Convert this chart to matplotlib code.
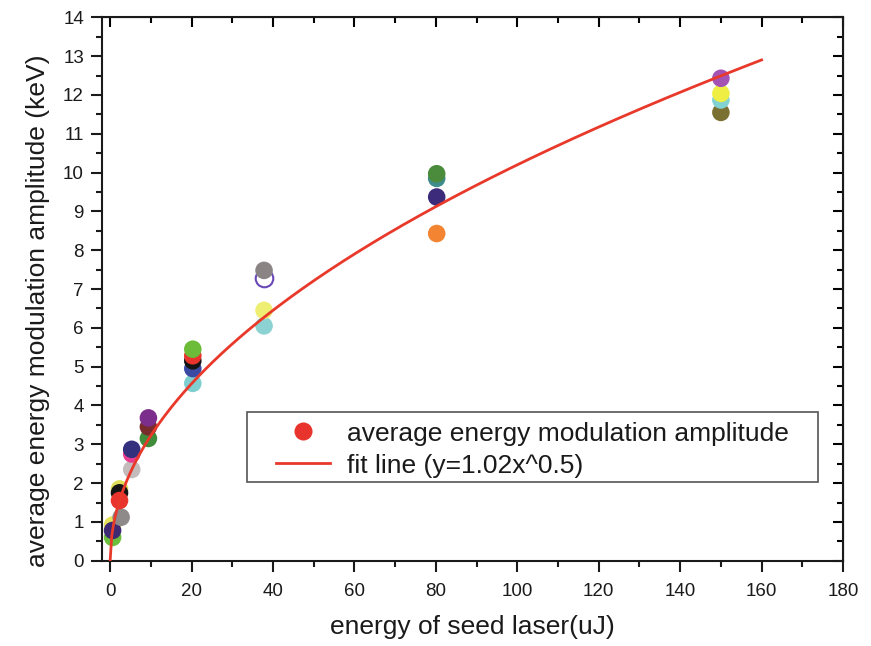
import numpy as np
import matplotlib
matplotlib.use("Agg")
import matplotlib.pyplot as plt
from matplotlib.lines import Line2D
from matplotlib.patches import Rectangle
from matplotlib.ticker import MultipleLocator

plt.rcParams['font.family'] = ['Liberation Sans', 'DejaVu Sans']

# Seed laser energy (uJ) for each measured shot group
energy_0 = [0.6, 0.6, 0.6]
energy_1 = [2.7, 2.3, 2.3, 2.3]
energy_2 = [5.3, 5.3, 5.3]
energy_3 = [9.4, 9.4, 9.4]
energy_4 = [20.3, 20.3, 20.3, 20.3, 20.3]
energy_5 = [37.8, 37.8, 37.8, 37.8]
energy_6 = [80.2, 80.2, 80.2, 80.2]
energy_7 = [150.0, 150.0, 150.0, 150.0]

# Average energy modulation amplitude (keV)
amp_0 = [0.60, 0.92, 0.78]
amp_1 = [1.12, 1.85, 1.75, 1.55]
amp_2 = [2.35, 2.75, 2.87]
amp_3 = [3.15, 3.45, 3.68]
amp_4 = [4.57, 4.95, 5.15, 5.28, 5.45]
amp_5 = [6.05, 6.45, 7.28, 7.48]
amp_6 = [8.43, 9.37, 9.85, 9.97]
amp_7 = [11.55, 11.87, 12.04, 12.43]

# Marker colours per shot
col_0 = ['#6cbf3c', '#e4e25a', '#3e2a72']
col_1 = ['#8e8a8a', '#dede58', '#141414', '#e8342c']
col_2 = ['#c4bcbc', '#ea3c8e', '#33307e']
col_3 = ['#3f8c3a', '#7a2c2c', '#7c2e8c']
col_4 = ['#7fcfd0', '#3a4aa2', '#141414', '#e8342c', '#6cbc3a']
col_5 = ['#8cd2d2', '#eeee72', '#ffffff', '#8a8484']
col_6 = ['#f28432', '#3b2b7a', '#3f8c8c', '#4a8c3c']
col_7 = ['#7a7032', '#82d2d2', '#eeee44', '#a452b4']
edge_5 = ['none', 'none', '#6a48b8', 'none']

# Power-law fit coefficients: y = a * x^b
fit_a = 1.02
fit_b = 0.5
fit_xmax = 160

fig = plt.figure(figsize=(8.71, 6.46), dpi=100)
ax = fig.add_axes([0.1171, 0.132, 0.8508, 0.8412])

groups = [
    (energy_0, amp_0, col_0, None),
    (energy_1, amp_1, col_1, None),
    (energy_2, amp_2, col_2, None),
    (energy_3, amp_3, col_3, None),
    (energy_4, amp_4, col_4, None),
    (energy_5, amp_5, col_5, edge_5),
    (energy_6, amp_6, col_6, None),
    (energy_7, amp_7, col_7, None),
]
for ex, ay, cs, es in groups:
    for i in range(len(ex)):
        ec = 'none' if es is None else es[i]
        ax.scatter([ex[i]], [ay[i]], s=160, c=cs[i], edgecolors=ec,
                   linewidths=1.5, zorder=2)

xf = np.linspace(0, fit_xmax, 400)
ax.plot(xf, fit_a * xf ** fit_b, color='#e8392b', lw=2.0, zorder=3)

ax.set_xlim(-2, 180)
ax.set_ylim(0, 14)
ax.xaxis.set_major_locator(MultipleLocator(20))
ax.xaxis.set_minor_locator(MultipleLocator(10))
ax.yaxis.set_major_locator(MultipleLocator(1))
ax.yaxis.set_minor_locator(MultipleLocator(0.5))
ax.tick_params(which='both', direction='out', width=1.5, colors='#1a1a1a',
               labelsize=13.5, top=False, right=False)
ax.tick_params(which='major', length=8)
ax.tick_params(which='minor', length=4.5)
ax.tick_params(axis='x', which='major', pad=8)
ax.tick_params(axis='y', which='major', pad=5)
for sp in ax.spines.values():
    sp.set_linewidth(1.5)
    sp.set_color('#1a1a1a')

# Inward ticks on the top and right edges
axt = ax.secondary_xaxis('top')
axt.xaxis.set_major_locator(MultipleLocator(20))
axt.xaxis.set_minor_locator(MultipleLocator(10))
axt.tick_params(which='both', direction='in', width=1.5, labeltop=False)
axt.tick_params(which='major', length=7)
axt.tick_params(which='minor', length=4)
axr = ax.secondary_yaxis('right')
axr.yaxis.set_major_locator(MultipleLocator(1))
axr.yaxis.set_minor_locator(MultipleLocator(0.5))
axr.tick_params(which='both', direction='in', width=1.5, labelright=False)
axr.tick_params(which='major', length=7)
axr.tick_params(which='minor', length=4)

ax.set_xlabel('energy of seed laser(uJ)', fontsize=19, color='#1a1a1a',
              labelpad=11)
ax.set_ylabel('average energy modulation amplitude (keV)', fontsize=19,
              color='#1a1a1a')
ax.yaxis.set_label_coords(-0.07, 0.46)

# Legend frame and entries
ax.add_patch(Rectangle((0.1957, 0.1448), 0.9663 - 0.1957, 0.2737 - 0.1448,
                       transform=ax.transAxes, facecolor='white',
                       edgecolor='#555555', linewidth=1.2, zorder=4))
handles = [
    Line2D([], [], ls='none', marker='o', markersize=13,
           markerfacecolor='#e8342c', markeredgecolor='none'),
    Line2D([], [], color='#e8392b', lw=2.0),
]
leg = ax.legend(handles, ['average energy modulation amplitude',
                          'fit line (y=1.02x^0.5)'],
                loc='center left', bbox_to_anchor=(0.2348, 0.2046),
                fontsize=19, frameon=False,
                handlelength=2.05, handletextpad=0.65, borderpad=0,
                labelspacing=0.3, borderaxespad=0)
leg.set_zorder(5)
for t in leg.get_texts():
    t.set_color('#1a1a1a')

fig.savefig('out.png', dpi=100)
